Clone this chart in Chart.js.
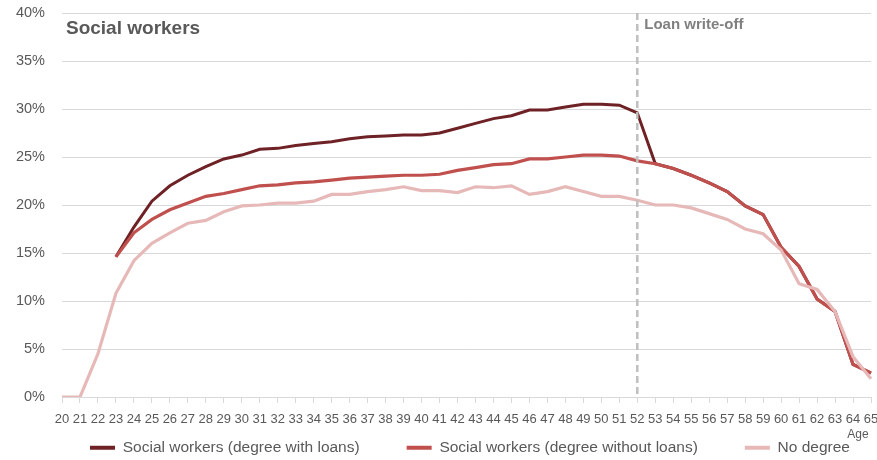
<!DOCTYPE html>
<html>
<head>
<meta charset="utf-8">
<script src="https://cdn.jsdelivr.net/npm/chart.js@4"></script>
<style>
html,body{margin:0;padding:0;background:#fff;}
#wrap{position:relative;width:877px;height:460px;}
</style>
</head>
<body>
<div id="wrap"><canvas id="c" width="877" height="460"></canvas></div>
<script>
const ages = ['20','21','22','23','24','25','26','27','28','29','30','31','32','33','34','35','36','37','38','39','40','41','42','43','44','45','46','47','48','49','50','51','52','53','54','55','56','57','58','59','60','61','62','63','64','65'];

const withLoans = [null,null,null,14.6,17.7,20.4,22.0,23.1,24.0,24.8,25.2,25.8,25.9,26.2,26.4,26.6,26.9,27.1,27.2,27.3,27.3,27.5,28.0,28.5,29.0,29.3,29.9,29.9,30.2,30.5,30.5,30.4,29.6,24.3,23.8,23.1,22.3,21.4,19.9,19.0,15.6,13.6,10.2,8.9,3.4,2.5];

const withoutLoans = [null,null,null,14.6,17.1,18.5,19.5,20.2,20.9,21.2,21.6,22.0,22.1,22.3,22.4,22.6,22.8,22.9,23.0,23.1,23.1,23.2,23.6,23.9,24.2,24.3,24.8,24.8,25.0,25.2,25.2,25.1,24.6,24.3,23.8,23.1,22.3,21.4,19.9,19.0,15.6,13.6,10.2,8.9,3.4,2.5];

const noDegree = [0,0,4.5,10.8,14.2,16.0,17.1,18.1,18.4,19.3,19.9,20.0,20.2,20.2,20.4,21.1,21.1,21.4,21.6,21.9,21.5,21.5,21.3,21.9,21.8,22.0,21.1,21.4,21.9,21.4,20.9,20.9,20.5,20.0,20.0,19.7,19.1,18.5,17.5,17.0,15.3,11.8,11.2,8.9,4.2,1.9];

const seriesNames = ['Social workers (degree with loans)','Social workers (degree without loans)','No degree'];
const yTicks = [0,5,10,15,20,25,30,35,40];
const writeOffAge = '52';
const chartTitle = 'Social workers';
const markerLabel = 'Loan write-off';
const xTitle = 'Age';

const FONT = "'Liberation Sans', Arial, sans-serif";

const overlay = {
  id: 'overlay',
  beforeInit(chart) {
    const lg = chart.legend;
    if (lg) {
      const orig = lg.fit;
      lg.fit = function() { orig.call(this); this.height = 30; };
    }
  },
  afterLayout(chart) {
    const lg = chart.legend;
    if (!lg) return;
    const p = lg.options.labels.padding;
    lg.top = 448 - p - 8;
    lg.bottom = 460;
    lg.height = lg.bottom - lg.top;
    const L = lg.lineWidths[0];
    lg.right = 1200;
    lg.left = 2 * 90 - p - lg.right + L;
  },
  afterDatasetsDraw(chart) {
    const {ctx, chartArea, scales} = chart;
    const x = scales.x.getPixelForValue(ages.indexOf(writeOffAge));
    ctx.save();
    ctx.strokeStyle = '#bfbfbf';
    ctx.lineWidth = 2.5;
    ctx.setLineDash([7, 4]);
    ctx.beginPath();
    ctx.moveTo(x, chartArea.top);
    ctx.lineTo(x, chartArea.bottom);
    ctx.stroke();
    ctx.setLineDash([]);
    ctx.fillStyle = '#808080';
    ctx.font = "bold 15px " + FONT;
    ctx.textBaseline = 'middle';
    ctx.textAlign = 'left';
    ctx.fillText(markerLabel, x + 7, chartArea.top + 12);
    ctx.fillStyle = '#595959';
    ctx.font = "bold 19px " + FONT;
    ctx.fillText(chartTitle, chartArea.left + 4, chartArea.top + 16);
    ctx.font = "12px " + FONT;
    ctx.textAlign = 'center';
    ctx.fillText(xTitle, 858, 435);
    ctx.restore();
  }
};

new Chart(document.getElementById('c'), {
  type: 'line',
  data: {
    labels: ages,
    datasets: [
      {label: seriesNames[0], data: withLoans, borderColor: '#6e2226', backgroundColor: '#6e2226', borderWidth: 3, pointRadius: 0, tension: 0, order: 3},
      {label: seriesNames[1], data: withoutLoans, borderColor: '#c0504d', backgroundColor: '#c0504d', borderWidth: 3.2, pointRadius: 0, tension: 0, order: 2},
      {label: seriesNames[2], data: noDegree, borderColor: '#e6b9b8', backgroundColor: '#e6b9b8', borderWidth: 3.2, pointRadius: 0, tension: 0, order: 1}
    ]
  },
  options: {
    responsive: false,
    animation: false,
    layout: {padding: {top: 13, right: 6, left: 0, bottom: 0}},
    plugins: {
      legend: {
        position: 'bottom',
        labels: {
          font: {family: FONT, size: 15.5},
          color: '#595959',
          boxWidth: 25,
          boxHeight: 4,
          padding: 47,
          sort: (a, b) => a.datasetIndex - b.datasetIndex,
          generateLabels(chart) {
            const items = Chart.defaults.plugins.legend.labels.generateLabels(chart);
            items.forEach(it => { it.lineWidth = 0; it.strokeStyle = 'rgba(0,0,0,0)'; });
            return items;
          }
        }
      },
      tooltip: {enabled: false}
    },
    scales: {
      x: {
        grid: {display: true, drawOnChartArea: false, drawTicks: true, tickLength: 6, color: '#d9d9d9'},
        border: {display: true, color: '#d9d9d9'},
        ticks: {autoSkip: false, maxRotation: 0, minRotation: 0, padding: 9, font: {family: FONT, size: 13}, color: '#595959'},
        afterFit(scale) { scale.height = 33; scale.paddingRight = 0; scale.paddingLeft = 0; }
      },
      y: {
        min: 0, max: 40,
        afterBuildTicks(scale) { scale.ticks = yTicks.map(v => ({value: v})); },
        grid: {color: '#d9d9d9', drawTicks: false},
        border: {display: false},
        ticks: {padding: 17, font: {family: FONT, size: 14.5}, color: '#595959', callback: v => v + '%'},
        afterFit(scale) { scale.width = 62; scale.paddingTop = 0; scale.paddingBottom = 0; }
      }
    }
  },
  plugins: [overlay]
});
</script>
</body>
</html>
